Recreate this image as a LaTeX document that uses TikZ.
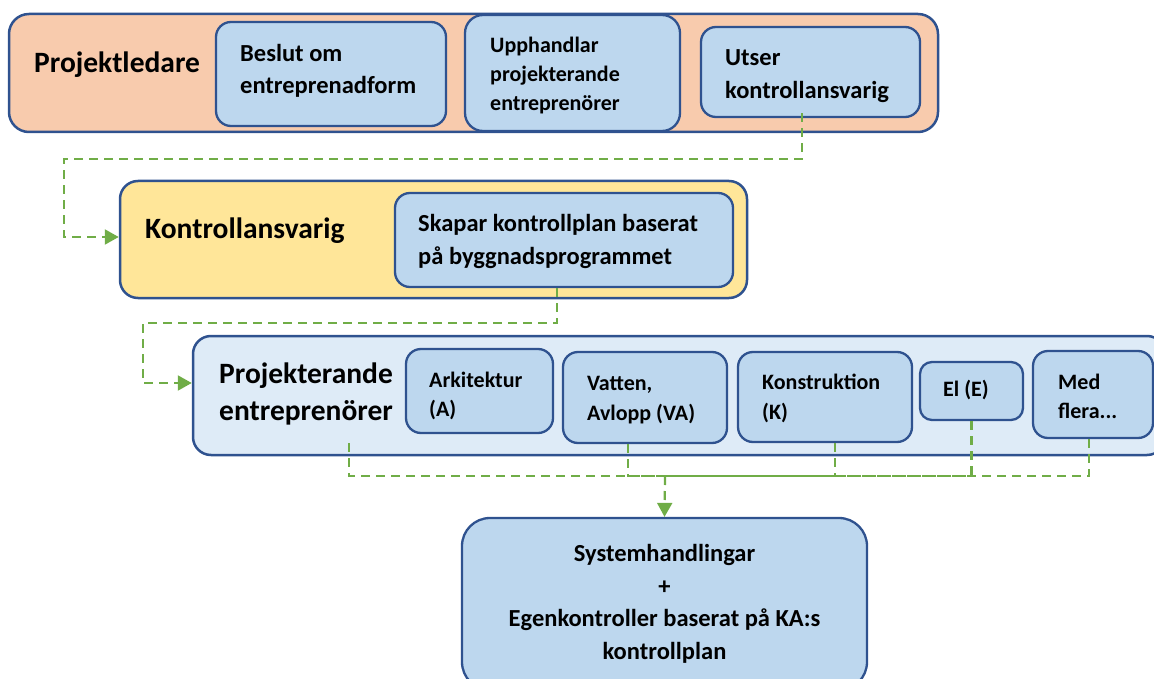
\documentclass[tikz,border=0pt]{standalone}
\usepackage{fontspec}
\setmainfont{Carlito}
\usetikzlibrary{arrows.meta}
\definecolor{bordc}{HTML}{2F528F}
\definecolor{peach}{HTML}{F8CBAD}
\definecolor{yellowf}{HTML}{FFE699}
\definecolor{lightbl}{HTML}{DEEBF7}
\definecolor{midbl}{HTML}{BDD7EE}
\definecolor{greenc}{HTML}{70AD47}
\tikzset{
  outerbox/.style={draw=bordc, line width=2.5pt, rounded corners=20pt, inner sep=0pt},
  innerbox/.style={draw=bordc, line width=2.3pt, fill=midbl, rounded corners=15pt, inner sep=0pt},
  bigtxt/.style={inner sep=0pt, anchor=west, align=left, font=\fontsize{29.5}{37}\selectfont\bfseries},
  medtxt/.style={inner sep=0pt, anchor=west, align=left, font=\fontsize{24.5}{32.5}\selectfont\bfseries},
  smalltxt/.style={inner sep=0pt, anchor=west, align=left, font=\fontsize{22}{29.5}\selectfont\bfseries},
  conn/.style={draw=greenc, line width=2.2pt, dash pattern=on 9pt off 6pt},
  arr/.style={-{Triangle[length=14pt,width=15pt]}}
}
\begin{document}
\begin{tikzpicture}[x=1pt,y=-1pt]
\useasboundingbox (0,0) rectangle (1154,679);
\clip (0,0) rectangle (1154,679);

% Projektledare row
\node[outerbox, fill=peach, minimum width=929pt, minimum height=118pt] (pl) at (473.5,73) {};
\node[innerbox, minimum width=230pt, minimum height=104pt] (beslut) at (331,74) {};
\node[innerbox, rounded corners=18pt, minimum width=215pt, minimum height=116pt] (upph) at (572.5,73) {};
\node[innerbox, minimum width=219pt, minimum height=90pt] (utser) at (810.5,72) {};
\node[bigtxt] (tpl) at (34,65) {Projektledare};
\node[medtxt] (tbeslut) at (240,71) {Beslut om\\entreprenadform};
\node[smalltxt, font=\fontsize{22}{29}\selectfont\bfseries] (tupph) at (490,76) {Upphandlar\\projekterande\\entreprenörer};
\node[medtxt] (tutser) at (725,76) {Utser\\kontrollansvarig};

% Kontrollansvarig row
\node[outerbox, fill=yellowf, rounded corners=18pt, minimum width=627pt, minimum height=117pt] (ka) at (433.5,239.5) {};
\node[innerbox, minimum width=338pt, minimum height=94pt] (skapar) at (564,240) {};
\node[bigtxt] (tka) at (145,231) {Kontrollansvarig};
\node[medtxt] (tskapar) at (418,241.5) {Skapar kontrollplan baserat\\på byggnadsprogrammet};

% Projekterande row
\node[outerbox, fill=lightbl, rounded corners=18pt, minimum width=972pt, minimum height=119pt] (pe) at (679,395.5) {};
\node[innerbox, minimum width=147pt, minimum height=84pt] (ark) at (479.5,391) {};
\node[innerbox, minimum width=164pt, minimum height=91pt] (vatten) at (645,397.5) {};
\node[innerbox, minimum width=174pt, minimum height=90pt] (konst) at (825,397) {};
\node[innerbox, rounded corners=12pt, minimum width=103pt, minimum height=58pt] (el) at (971.5,391) {};
\node[innerbox, minimum width=120pt, minimum height=87pt] (med) at (1093,394.5) {};
\node[bigtxt] (tpe) at (219,393.5) {Projekterande\\entreprenörer};
\node[smalltxt] (tark) at (429,396) {Arkitektur\\(A)};
\node[smalltxt] (tvatten) at (587,400) {Vatten,\\Avlopp (VA)};
\node[smalltxt] (tkonst) at (762,398.5) {Konstruktion\\(K)};
\node[smalltxt] (tel) at (943,390) {El (E)};
\node[smalltxt] (tmed) at (1058,396.5) {Med\\flera...};

% Bottom box
\node[innerbox, rounded corners=28pt, minimum width=405pt, minimum height=172pt] (sys) at (664.5,604) {};
\node[medtxt, anchor=center, align=center] (tsys) at (664.5,604) {Systemhandlingar\\+\\Egenkontroller baserat på KA:s\\kontrollplan};

% Connectors
\draw[conn, arr] ([xshift=-8.5pt,yshift=5pt]utser.south) |- (64,159) |- ([yshift=2.5pt]ka.west);
\draw[conn, arr] ([xshift=-7pt]skapar.south) |- (143,323) |- ([yshift=12.5pt]pe.west);

\coordinate (pestart) at (349,443);
\coordinate (bus) at (665,476);
\draw[conn] (pestart) |- (bus);
\draw[conn] ([xshift=-17pt]vatten.south) |- (bus);
\draw[conn] ([xshift=10pt]konst.south) |- (bus);
\draw[conn] (el.south) |- (bus);
\draw[conn] ([xshift=-4pt]med.south) |- (bus);
\draw[conn, arr] (bus) -- (sys.north);
\end{tikzpicture}
\end{document}
